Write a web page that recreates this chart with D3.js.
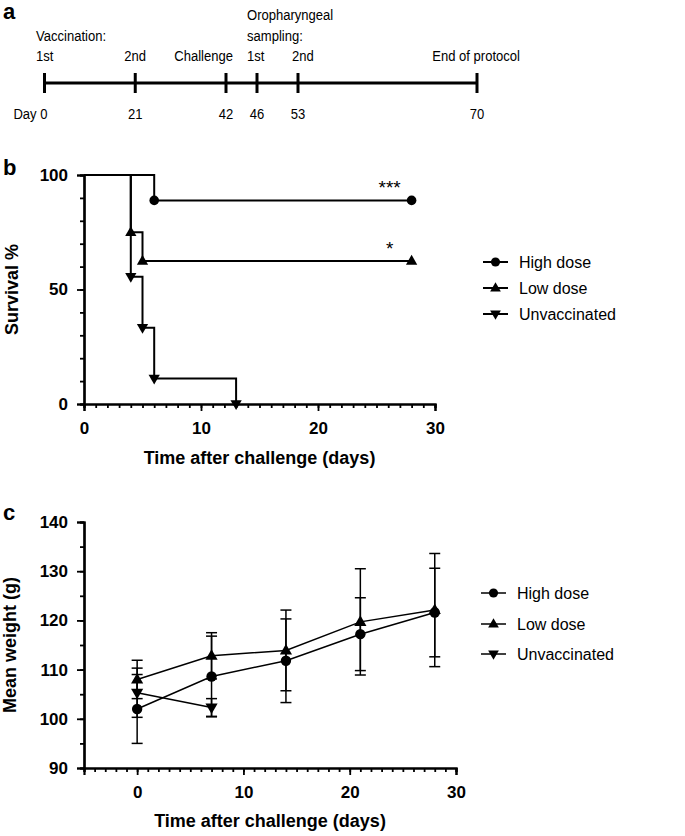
<!DOCTYPE html>
<html>
<head>
<meta charset="utf-8">
<script src="https://d3js.org/d3.v7.min.js"></script>
<style>
body { margin: 0; background: #fff; }
svg { font-family: "Liberation Sans", Arial, sans-serif; }
</style>
</head>
<body>
<svg width="685" height="836"></svg>
<script>
// ---- panel a: protocol timeline
const timelineDays = [0, 21, 42, 46, 53, 70];
const timelineDayLabels = ["Day 0", "21", "42", "46", "53", "70"];
const eventLabels = [
  ["Vaccination:", "1st"],
  ["2nd"],
  ["Challenge"],
  ["Oropharyngeal", "sampling:", "1st"],
  ["2nd"],
  ["End of protocol"]
];

// ---- panel b: survival (Kaplan-Meier steps)
const seriesNames = ["High dose", "Low dose", "Unvaccinated"];
const survHighDays = [0, 6, 28];
const survHigh = [100, 88.9, 88.9];
const survLowDays = [0, 4, 5, 28];
const survLow = [100, 75, 62.5, 62.5];
const survUnvacDays = [0, 4, 5, 6, 13];
const survUnvac = [100, 55.6, 33.3, 11.1, 0];
const survStars = ["***", "*", ""];

// ---- panel c: mean weight +/- SD
const weightDays = [0, 7, 14, 21, 28];
const weightHigh = [102, 108.6, 111.8, 117.2, 121.6];
const weightHighSd = [7, 8.2, 8.5, 7.4, 9];
const weightLow = [108, 112.8, 113.9, 119.7, 122.1];
const weightLowSd = [3.9, 4.7, 8.2, 10.8, 11.5];
const weightUnvacDays = [0, 7];
const weightUnvac = [105.3, 102.3];
const weightUnvacSd = [5, 1.8];

const svg = d3.select("svg");

function panelLetter(t, x, y) {
  svg.append("text").attr("x", x).attr("y", y).text(t)
    .style("font-size", "22px").style("font-weight", "bold");
}

// symbol helper: 0 circle, 1 triangle up, 2 triangle down
function marker(g, kind, x, y, scale) {
  const s = scale || 1;
  if (kind === 0) {
    g.append("circle").attr("cx", x).attr("cy", y).attr("r", 4.8 * s).attr("fill", "#000");
  } else {
    g.append("path")
      .attr("d", d3.symbol(d3.symbolTriangle, 55 * s * s)())
      .attr("transform", `translate(${x},${y + (kind === 1 ? 0.5 : -0.5)})` + (kind === 2 ? " rotate(180)" : ""))
      .attr("fill", "#000");
  }
}

// ===== panel a =====
panelLetter("a", 3, 19);
const tx = d3.scaleLinear().domain([0, 42, 46, 53, 70]).range([44.5, 226, 257, 298, 477]);
const ga = svg.append("g").style("font-size", "14.5px");
// the original lettering is a little condensed
function condensed(g, x, y, anchor, t) {
  g.append("text").attr("transform", `translate(${x},${y}) scale(0.9,1)`)
    .attr("text-anchor", anchor).text(t);
}
ga.append("line").attr("x1", tx(0)).attr("x2", tx(70)).attr("y1", 83).attr("y2", 83)
  .attr("stroke", "#000").attr("stroke-width", 3);
ga.selectAll(".tick").data(timelineDays).enter().append("line")
  .attr("x1", d => tx(d)).attr("x2", d => tx(d)).attr("y1", 73).attr("y2", 93)
  .attr("stroke", "#000").attr("stroke-width", 3);
timelineDays.forEach((d, i) => {
  condensed(ga, i === 0 ? tx(d) + 3 : tx(d), 118.5, i === 0 ? "end" : "middle", timelineDayLabels[i]);
});
const evPlace = [
  { anchor: "start", dx: -8.5 },
  { anchor: "middle", dx: 0 },
  { anchor: "end", dx: 7 },
  { anchor: "start", dx: -10 },
  { anchor: "middle", dx: 5 },
  { anchor: "end", dx: 43 }
];
eventLabels.forEach((lines, i) => {
  const n = lines.length;
  lines.forEach((t, j) => {
    condensed(ga, tx(timelineDays[i]) + evPlace[i].dx, 61 - (n - 1 - j) * 20.3, evPlace[i].anchor, t);
  });
});

// ===== shared axis drawing =====
function drawAxes(g, x, y, xMajor, xMinor, yMajor, yMinor) {
  const yBase = y.range()[0];
  const xBase = x.range()[0];
  const minorX = g.append("g").attr("transform", `translate(0,${yBase})`)
    .call(d3.axisBottom(x).tickValues(xMinor).tickSize(4).tickFormat(""));
  const majorX = g.append("g").attr("transform", `translate(0,${yBase})`)
    .call(d3.axisBottom(x).tickValues(xMajor).tickSize(7).tickPadding(11).tickFormat(d3.format("d")));
  const minorY = g.append("g").attr("transform", `translate(${xBase},0)`)
    .call(d3.axisLeft(y).tickValues(yMinor).tickSize(4).tickFormat(""));
  const majorY = g.append("g").attr("transform", `translate(${xBase},0)`)
    .call(d3.axisLeft(y).tickValues(yMajor).tickSize(7).tickPadding(9).tickFormat(d3.format("d")));
  [minorX, majorX, minorY, majorY].forEach(a => {
    a.select(".domain").attr("stroke-width", 2.2).attr("stroke", "#000");
    a.selectAll(".tick line").attr("stroke-width", 1.8).attr("stroke", "#000");
    a.selectAll("text").style("font-size", "17px").style("font-weight", "bold")
      .style("font-family", '"Liberation Sans", Arial, sans-serif').attr("fill", "#000");
  });
}

function legend(g, x0, ys, lw) {
  seriesNames.forEach((name, i) => {
    g.append("line").attr("x1", x0).attr("x2", x0 + 25).attr("y1", ys[i]).attr("y2", ys[i])
      .attr("stroke", "#000").attr("stroke-width", lw);
    marker(g, i, x0 + 12.5, ys[i], 0.95);
    g.append("text").attr("x", x0 + 36).attr("y", ys[i] + 6).text(name).style("font-size", "16px");
  });
}

// ===== panel b =====
panelLetter("b", 3, 175);
const xb = d3.scaleLinear().domain([0, 30]).range([84, 435]);
const yb = d3.scaleLinear().domain([0, 100]).range([404, 175]);
const gb = svg.append("g");
drawAxes(gb, xb, yb, [0, 10, 20, 30], d3.range(0, 31), [0, 50, 100], d3.range(0, 101, 10));

const survSeries = [
  { days: survHighDays, vals: survHigh },
  { days: survLowDays, vals: survLow },
  { days: survUnvacDays, vals: survUnvac }
];
const stepLine = d3.line().x(d => xb(d[0])).y(d => yb(d[1])).curve(d3.curveStepAfter);
survSeries.forEach((s, i) => {
  const pts = s.days.map((d, k) => [d, s.vals[k]]);
  gb.append("path").attr("d", stepLine(pts)).attr("fill", "none")
    .attr("stroke", "#000").attr("stroke-width", 2);
  pts.slice(1).forEach(p => marker(gb, i, xb(p[0]), yb(p[1]), 1));
  if (survStars[i]) {
    const last = pts[pts.length - 1];
    gb.append("text").attr("x", xb(last[0]) - 22).attr("y", yb(last[1]) - 6)
      .attr("text-anchor", "middle").style("font-size", "19px").text(survStars[i]);
  }
});
gb.append("text").attr("x", (xb.range()[0] + xb.range()[1]) / 2).attr("y", 464)
  .attr("text-anchor", "middle").style("font-size", "18px").style("font-weight", "bold")
  .text("Time after challenge (days)");
gb.append("text").attr("transform", `translate(18,${(yb.range()[0] + yb.range()[1]) / 2}) rotate(-90)`)
  .attr("text-anchor", "middle").style("font-size", "18px").style("font-weight", "bold")
  .text("Survival %");
legend(gb, 483, [262, 288, 314], 2);

// ===== panel c =====
panelLetter("c", 3, 520);
const xc = d3.scaleLinear().domain([-5, 30]).range([84, 456]);
const yc = d3.scaleLinear().domain([90, 140]).range([768, 522]);
const gc = svg.append("g");
drawAxes(gc, xc, yc, [0, 10, 20, 30], d3.range(-5, 31), [90, 100, 110, 120, 130, 140], d3.range(90, 141, 5));

const weightSeries = [
  { days: weightDays, vals: weightHigh, sd: weightHighSd },
  { days: weightDays, vals: weightLow, sd: weightLowSd },
  { days: weightUnvacDays, vals: weightUnvac, sd: weightUnvacSd }
];
const wLine = d3.line().x(d => xc(d[0])).y(d => yc(d[1]));
weightSeries.forEach(s => {
  s.days.forEach((d, k) => {
    const lo = yc(s.vals[k] - s.sd[k]), hi = yc(s.vals[k] + s.sd[k]), cx = xc(d);
    gc.append("line").attr("x1", cx).attr("x2", cx).attr("y1", lo).attr("y2", hi)
      .attr("stroke", "#000").attr("stroke-width", 1.5);
    [lo, hi].forEach(yy => gc.append("line").attr("x1", cx - 5.5).attr("x2", cx + 5.5)
      .attr("y1", yy).attr("y2", yy).attr("stroke", "#000").attr("stroke-width", 1.5));
  });
});
weightSeries.forEach((s, i) => {
  const pts = s.days.map((d, k) => [d, s.vals[k]]);
  gc.append("path").attr("d", wLine(pts)).attr("fill", "none")
    .attr("stroke", "#000").attr("stroke-width", 1.5);
  pts.forEach(p => marker(gc, i, xc(p[0]), yc(p[1]), 1.08));
});
gc.append("text").attr("x", (xc.range()[0] + xc.range()[1]) / 2).attr("y", 827)
  .attr("text-anchor", "middle").style("font-size", "18px").style("font-weight", "bold")
  .text("Time after challenge (days)");
gc.append("text").attr("transform", `translate(16,${(yc.range()[0] + yc.range()[1]) / 2}) rotate(-90)`)
  .attr("text-anchor", "middle").style("font-size", "18px").style("font-weight", "bold")
  .text("Mean weight (g)");
legend(gc, 481, [593, 624, 654], 1.5);
</script>
</body>
</html>
